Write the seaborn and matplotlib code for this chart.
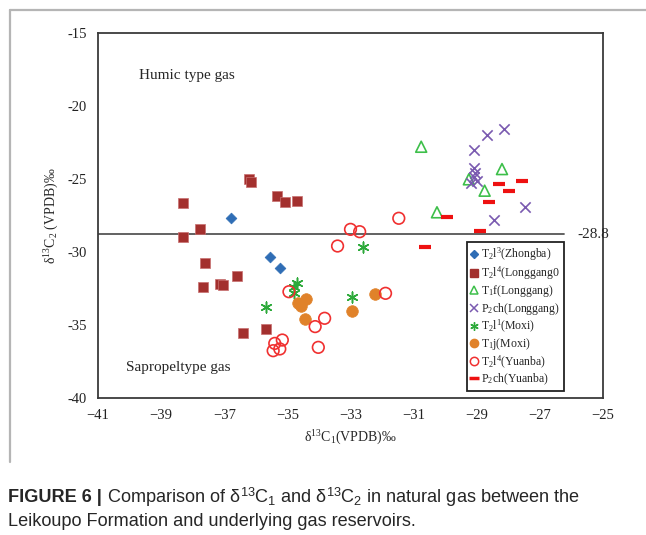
import numpy as np
import pandas as pd
import matplotlib
matplotlib.use("Agg")
import matplotlib.pyplot as plt
import seaborn as sns
from matplotlib.lines import Line2D

# ---------------- data ----------------
zhongba_x = [-36.79, -35.56, -35.24]
zhongba_y = [-27.69, -30.32, -31.07]

longgang0_x = [-36.21, -36.16, -38.32, -35.33, -35.08, -34.71, -37.77, -38.32,
               -37.61, -36.59, -37.14, -37.03, -37.67, -36.40, -35.69]
longgang0_y = [-25.02, -25.20, -26.62, -26.14, -26.58, -26.48, -28.45, -28.95,
               -30.73, -31.64, -32.19, -32.24, -32.42, -35.53, -35.29]

t1f_x = [-30.76, -28.20, -29.25, -28.75, -30.26]
t1f_y = [-22.79, -24.32, -25.02, -25.80, -27.28]

p2ch_lg_x = [-28.15, -28.67, -29.10, -29.10, -29.04, -29.10, -28.99, -29.18, -27.48, -28.45]
p2ch_lg_y = [-21.60, -21.99, -23.01, -24.22, -24.57, -24.88, -25.14, -25.30, -26.94, -27.81]

moxi_l_x = [-34.71, -34.80, -34.80, -35.69, -32.95, -32.60]
moxi_l_y = [-32.15, -32.42, -32.78, -33.79, -33.06, -29.68]

moxi_j_x = [-34.42, -34.66, -34.56, -34.45, -32.94, -32.21]
moxi_j_y = [-33.22, -33.52, -33.70, -34.61, -34.06, -32.90]

yuanba_l_x = [-34.95, -33.82, -34.12, -34.02, -35.16, -35.40, -35.24, -35.45,
              -31.47, -33.00, -32.71, -33.41, -31.89]
yuanba_l_y = [-32.72, -34.54, -35.11, -36.53, -36.03, -36.26, -36.64, -36.76,
              -27.69, -28.45, -28.61, -29.59, -32.83]

yuanba_p_x = [-30.65, -29.93, -28.91, -28.62, -28.30, -27.99, -27.58]
yuanba_p_y = [-29.68, -27.58, -28.56, -26.55, -25.36, -25.84, -25.14]

series_labels = ["T$_2$l$^3$(Zhongba)", "T$_2$l$^4$(Longgang0", "T$_1$f(Longgang)",
                 "P$_2$ch(Longgang)", "T$_2$l$^1$(Moxi)", "T$_1$j(Moxi)",
                 "T$_2$l$^4$(Yuanba)", "P$_2$ch(Yuanba)"]

x_ticks = [-41, -39, -37, -35, -33, -31, -29, -27, -25]
y_ticks = [-40, -35, -30, -25, -20, -15]
y_tick_labels = ["-40", "-35", "-30", "-25", "-20", "-15"]
boundary = -28.8

# ---------------- style ----------------
sns.set_style("white")
plt.rcParams["font.family"] = ["Liberation Serif", "DejaVu Serif"]
plt.rcParams["mathtext.fontset"] = "custom"
plt.rcParams["mathtext.rm"] = "Liberation Serif"
plt.rcParams["mathtext.it"] = "Liberation Serif:italic"
plt.rcParams["mathtext.sf"] = "Liberation Sans"

W, H = 646, 535
fig = plt.figure(figsize=(W / 100, H / 100), dpi=100)
L, R, T, B = 98, 603, 33, 398
ax = fig.add_axes([L / W, 1 - B / H, (R - L) / W, (B - T) / H])

c_blue = "#2F6DB5"
c_dred = "#A3302E"
c_green = "#3DBF4A"
c_purple = "#7A5AB0"
c_mgreen = "#2DAA3A"
c_orange = "#E0822A"
c_red = "#F03030"
c_bred = "#EE1111"

sns.scatterplot(x=zhongba_x, y=zhongba_y, ax=ax, marker="D", s=30, color=c_blue,
                edgecolor=c_blue, linewidth=0.5, zorder=4, legend=False)
sns.scatterplot(x=longgang0_x, y=longgang0_y, ax=ax, marker="s", s=62, color=c_dred,
                edgecolor="#c87070", linewidth=0.5, zorder=4, legend=False)
sns.scatterplot(x=t1f_x, y=t1f_y, ax=ax, marker="^", s=62, color=c_green,
                facecolor="none", edgecolor=c_green, linewidth=1.2, zorder=4, legend=False)
sns.scatterplot(x=p2ch_lg_x, y=p2ch_lg_y, ax=ax, marker="x", s=55, color=c_purple,
                linewidth=1.2, zorder=4, legend=False)
sns.scatterplot(x=moxi_l_x, y=moxi_l_y, ax=ax, marker=(6, 2, 0), s=60, color=c_mgreen,
                linewidth=1.1, zorder=4, legend=False)
sns.scatterplot(x=moxi_j_x, y=moxi_j_y, ax=ax, marker="o", s=70, color=c_orange,
                edgecolor=c_orange, linewidth=0.5, zorder=4, legend=False)
sns.scatterplot(x=yuanba_l_x, y=yuanba_l_y, ax=ax, marker="o", s=70, color=c_red,
                facecolor="none", edgecolor=c_red, linewidth=1.2, zorder=4, legend=False)
sns.scatterplot(x=yuanba_p_x, y=yuanba_p_y, ax=ax, marker="_", s=70, color=c_bred,
                linewidth=3, zorder=4, legend=False)

# boundary line
ax.plot([-41, -26.22], [boundary, boundary], color="#555555", lw=1.3, zorder=2)
ax.text(-25.8, boundary, "-28.8", fontsize=11, va="center", ha="left", clip_on=False)

ax.text(-39.7, -17.88, "Humic type gas", fontsize=11, va="center", ha="left")
ax.text(-40.1, -37.88, "Sapropeltype gas", fontsize=11, va="center", ha="left")

ax.set_xlim(-41, -25)
ax.set_ylim(-40, -15)
ax.set_xticks(x_ticks)
ax.set_xticklabels(["\u2212%d" % abs(v) for v in x_ticks])
ax.set_yticks(y_ticks)
ax.set_yticklabels(y_tick_labels)
ax.tick_params(direction="in", length=4, width=1, labelsize=10.5, colors="#333333",
               labelcolor="#222222")
ax.tick_params(axis="x", pad=8)
ax.tick_params(axis="y", pad=8)
for sp in ax.spines.values():
    sp.set_color("#3a3a3a")
    sp.set_linewidth(1.3)

ax.set_xlabel("\u03b4$^{13}$C$_1$(VPDB)\u2030", fontsize=10, labelpad=5)
ax.set_ylabel("\u03b4$^{13}$C$_2$ (VPDB)\u2030", fontsize=10, labelpad=4.5)

# legend
handles = [
    Line2D([], [], marker="D", ls="none", ms=4, color=c_blue),
    Line2D([], [], marker="s", ls="none", ms=6, color=c_dred),
    Line2D([], [], marker="^", ls="none", ms=6, mfc="none", mec=c_green, mew=1.1),
    Line2D([], [], marker="x", ls="none", ms=6, color=c_purple, mew=1.1),
    Line2D([], [], marker=(6, 2, 0), ls="none", ms=6, color=c_mgreen, mew=1.0),
    Line2D([], [], marker="o", ls="none", ms=6, color=c_orange),
    Line2D([], [], marker="o", ls="none", ms=6, mfc="none", mec=c_red, mew=1.1),
    Line2D([], [], marker="_", ls="none", ms=7, color=c_bred, mew=2.5),
]
leg = ax.legend(handles, series_labels, loc="upper left",
                bbox_to_anchor=((467 - L) / (R - L), (B - 242) / (B - T)),
                borderaxespad=0, fontsize=8.5, frameon=True, fancybox=False,
                handlelength=0.6, handletextpad=0.3, labelspacing=0.11,
                borderpad=0.3, framealpha=1)
leg.get_frame().set_edgecolor("#222222")
leg.get_frame().set_linewidth(1.3)
leg.set_zorder(6)

# outer figure border (light gray)
fig.add_artist(Line2D([10 / W, 10 / W], [1 - 10 / H, 1 - 462 / H], transform=fig.transFigure,
                      color="#b5b5b5", lw=1.6))
fig.add_artist(Line2D([10 / W, 1.0], [1 - 10 / H, 1 - 10 / H], transform=fig.transFigure,
                      color="#b5b5b5", lw=1.6))

# caption
fig.canvas.draw()
renderer = fig.canvas.get_renderer()
cap_y1 = 1 - 497 / H
cap_y2 = 1 - 522 / H
cap_fs = 13.1
t1 = fig.text(8 / W, cap_y1, "FIGURE 6 |", fontsize=cap_fs, weight="bold",
              family=["Liberation Sans", "DejaVu Sans"], va="center", ha="left")
bb = t1.get_window_extent(renderer)
fig.text(bb.x1 / W + 5 / W, cap_y1,
         "Comparison of \u03b4$^{\\mathsf{13}}$C$_{\\mathsf{1}}$ and \u03b4$^{\\mathsf{13}}$C$_{\\mathsf{2}}$ in natural gas between the",
         fontsize=cap_fs, family=["Liberation Sans", "DejaVu Sans"], va="center", ha="left")
fig.text(8 / W, cap_y2, "Leikoupo Formation and underlying gas reservoirs.",
         fontsize=cap_fs, family=["Liberation Sans", "DejaVu Sans"], va="center", ha="left")

fig.savefig("out.png", dpi=100)
